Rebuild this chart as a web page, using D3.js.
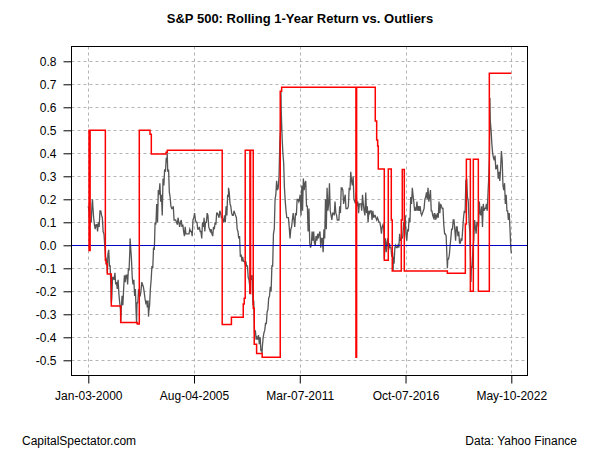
<!DOCTYPE html>
<html>
<head>
<meta charset="utf-8">
<script src="https://cdn.jsdelivr.net/npm/d3@7"></script>
<style>
  body { margin: 0; background: #fff; }
  text { font-family: "Liberation Sans", Arial, sans-serif; }
</style>
</head>
<body>
<div id="chart"></div>
<script>
// rolling 1-year return, mid-month readings, Jan 2000 .. Apr 2022
var midMonth = [
  0.15, 0.11, 0.18, 0.12, 0.07, 0.09, 0.10, 0.15, 0.13, 0.06, 0.00, -0.06,
  -0.04, -0.09, -0.19, -0.14, -0.15, -0.17, -0.19, -0.21, -0.28, -0.22, -0.19, -0.16,
  -0.13, -0.10, -0.02, -0.06, -0.17, -0.22, -0.30, -0.25, -0.22, -0.20, -0.17, -0.20,
  -0.25, -0.27, -0.29, -0.19, -0.09, -0.01, 0.10, 0.18, 0.24, 0.27, 0.22, 0.29,
  0.33, 0.38, 0.32, 0.23, 0.17, 0.16, 0.11, 0.11, 0.09, 0.10, 0.10, 0.08,
  0.06, 0.08, 0.05, 0.05, 0.07, 0.06, 0.11, 0.14, 0.10, 0.07, 0.08, 0.06,
  0.10, 0.12, 0.10, 0.14, 0.08, 0.06, 0.05, 0.08, 0.10, 0.14, 0.13, 0.15,
  0.12, 0.11, 0.13, 0.17, 0.22, 0.23, 0.17, 0.13, 0.15, 0.13, 0.07, 0.03,
  -0.05, -0.07, -0.07, -0.08, -0.09, -0.14, -0.18, -0.15, -0.26, -0.38, -0.41, -0.41,
  -0.43, -0.46, -0.44, -0.38, -0.34, -0.29, -0.23, -0.18, -0.09, 0.05, 0.20, 0.28,
  0.25, 0.45, 0.58, 0.40, 0.25, 0.15, 0.12, 0.08, 0.07, 0.11, 0.11, 0.14,
  0.20, 0.19, 0.22, 0.26, 0.29, 0.27, 0.17, 0.06, 0.01, 0.00, 0.02, 0.01,
  0.04, 0.05, 0.05, -0.01, 0.03, 0.07, 0.20, 0.25, 0.18, 0.15, 0.11, 0.14,
  0.19, 0.13, 0.11, 0.17, 0.25, 0.24, 0.20, 0.16, 0.16, 0.25, 0.32, 0.26,
  0.20, 0.18, 0.17, 0.14, 0.18, 0.15, 0.18, 0.13, 0.14, 0.10, 0.14, 0.15,
  0.15, 0.13, 0.12, 0.12, 0.10, 0.08, 0.08, 0.07, 0.03, 0.01, -0.02, -0.01,
  -0.05, -0.05, -0.01, -0.01, 0.00, 0.05, 0.03, 0.04, 0.07, 0.05, 0.07, 0.12,
  0.21, 0.25, 0.19, 0.16, 0.19, 0.17, 0.17, 0.13, 0.15, 0.20, 0.23, 0.25,
  0.21, 0.15, 0.13, 0.14, 0.13, 0.14, 0.19, 0.18, 0.16, 0.09, 0.05, -0.05,
  -0.06, 0.00, 0.07, 0.11, 0.07, 0.08, 0.04, 0.01, 0.03, 0.07, 0.15, 0.28,
  0.21, 0.10, -0.07, -0.10, 0.02, 0.08, 0.10, 0.08, 0.14, 0.17, 0.18, 0.16,
  0.18, 0.23, 0.40, 0.50, 0.40, 0.37, 0.33, 0.35, 0.32, 0.33, 0.37, 0.24,
  0.18, 0.15, 0.11, 0.07
];

// same series, month-end readings, Jan 2000 .. Apr 2022
var monthEnd = [
  0.09, 0.10, 0.17, 0.09, 0.09, 0.06, 0.08, 0.15, 0.12, 0.05, -0.05, -0.10,
  -0.02, -0.09, -0.23, -0.14, -0.12, -0.16, -0.15, -0.25, -0.28, -0.26, -0.13, -0.13,
  -0.17, -0.11, -0.01, -0.14, -0.15, -0.19, -0.25, -0.19, -0.22, -0.16, -0.18, -0.23,
  -0.24, -0.24, -0.26, -0.15, -0.10, -0.02, 0.09, 0.10, 0.22, 0.19, 0.13, 0.26,
  0.32, 0.36, 0.33, 0.21, 0.16, 0.17, 0.11, 0.10, 0.12, 0.08, 0.11, 0.09,
  0.04, 0.05, 0.05, 0.05, 0.06, 0.04, 0.12, 0.11, 0.10, 0.07, 0.06, 0.03,
  0.08, 0.06, 0.10, 0.13, 0.07, 0.07, 0.04, 0.07, 0.09, 0.14, 0.12, 0.14,
  0.12, 0.10, 0.10, 0.13, 0.21, 0.18, 0.14, 0.13, 0.14, 0.12, 0.06, 0.04,
  -0.04, -0.05, -0.07, -0.07, -0.09, -0.15, -0.13, -0.13, -0.24, -0.37, -0.40, -0.39,
  -0.40, -0.45, -0.40, -0.37, -0.34, -0.28, -0.22, -0.20, -0.09, 0.07, 0.22, 0.24,
  0.30, 0.50, 0.47, 0.36, 0.19, 0.12, 0.12, 0.03, 0.08, 0.14, 0.08, 0.13,
  0.20, 0.20, 0.13, 0.15, 0.24, 0.28, 0.17, 0.16, -0.01, 0.06, 0.06, 0.00,
  0.02, 0.03, 0.06, 0.03, -0.03, 0.03, 0.07, 0.15, 0.27, 0.13, 0.14, 0.13,
  0.14, 0.11, 0.11, 0.14, 0.25, 0.18, 0.22, 0.16, 0.17, 0.24, 0.28, 0.30,
  0.19, 0.23, 0.19, 0.18, 0.18, 0.22, 0.15, 0.23, 0.17, 0.15, 0.15, 0.11,
  0.12, 0.13, 0.11, 0.11, 0.10, 0.05, 0.09, -0.02, -0.03, 0.03, 0.01, -0.01,
  -0.03, -0.08, 0.00, -0.01, -0.01, 0.02, 0.03, 0.10, 0.13, 0.02, 0.06, 0.10,
  0.18, 0.22, 0.15, 0.15, 0.15, 0.15, 0.14, 0.14, 0.16, 0.21, 0.20, 0.19,
  0.24, 0.15, 0.12, 0.11, 0.12, 0.12, 0.14, 0.17, 0.16, 0.05, 0.04, -0.06,
  -0.04, 0.03, 0.07, 0.11, 0.02, 0.08, 0.06, 0.01, 0.02, 0.12, 0.14, 0.29,
  0.19, 0.06, -0.09, -0.01, 0.11, 0.05, 0.10, 0.19, 0.13, 0.08, 0.15, 0.16,
  0.15, 0.29, 0.54, 0.44, 0.38, 0.39, 0.34, 0.29, 0.28, 0.41, 0.26, 0.27,
  0.22, 0.15, 0.14, -0.01
];

// daily extremes that stick out of the monthly readings
var extremeDates = ["2000-01-03", "2000-03-24", "2001-01-04", "2001-03-22", "2001-09-21",
  "2002-03-19", "2002-07-23", "2003-03-11", "2004-03-05", "2007-06-01", "2008-07-15",
  "2009-03-09", "2010-03-09", "2015-08-25", "2016-02-11", "2018-12-24", "2020-03-23",
  "2021-03-23", "2022-05-10"];
var extremeValues = [0.17, 0.20, -0.12, -0.25, -0.33,
  0.03, -0.34, -0.31, 0.40, 0.25, -0.21,
  -0.47, 0.67, -0.06, -0.11, -0.10, -0.16,
  0.64, -0.035];

// outlier step series
var outlierDates = ["2000-01-03", "2000-01-17", "2000-02-07", "2000-11-27", "2000-12-10", "2001-01-04",
  "2001-03-22", "2001-09-19", "2002-08-06", "2002-09-13", "2003-04-08", "2003-05-03",
  "2004-02-12", "2004-03-07", "2007-01-30", "2007-07-27", "2008-03-11", "2008-03-30",
  "2008-04-18", "2008-07-18", "2008-07-31", "2008-09-20", "2008-10-09", "2008-11-24",
  "2009-03-12", "2010-02-23", "2010-03-22", "2014-02-23", "2014-03-08", "2015-03-03",
  "2015-03-30", "2015-04-18", "2015-04-30", "2015-08-24", "2015-11-09", "2016-01-06",
  "2016-01-25", "2016-07-17", "2016-08-05", "2016-09-13", "2018-12-23", "2019-12-05",
  "2019-12-25", "2020-03-11", "2020-05-07", "2020-08-12", "2021-03-12", "2022-05-10"];
var outlierValues = [0.50, -0.023, 0.50, -0.065, -0.08, -0.125,
  -0.264, -0.336, -0.342, 0.50, 0.483, 0.397,
  0.405, 0.413, -0.344, -0.313, -0.255, -0.23,
  0.413, -0.21, 0.413, -0.274, -0.43, -0.47,
  -0.487, 0.67, 0.687, -0.487, 0.687, 0.54,
  0.458, 0.432, 0.332, -0.065, 0.332, 0.11,
  -0.112, 0.11, 0.33, -0.112, -0.122, 0.093,
  0.374, -0.20, 0.374, -0.20, 0.748, 0.748];

var tickDates = ["2000-01-03", "2005-08-04", "2011-03-07", "2016-10-07", "2022-05-10"];
var yTicks = [0.8, 0.7, 0.6, 0.5, 0.4, 0.3, 0.2, 0.1, 0.0, -0.1, -0.2, -0.3, -0.4, -0.5];

var parse = d3.timeParse("%Y-%m-%d");

var grayData = [];
midMonth.forEach(function(v, i) {
  grayData.push({date: new Date(2000, i, 15), val: v});
});
monthEnd.forEach(function(v, i) {
  grayData.push({date: new Date(2000, i + 1, 0), val: v});
});
extremeDates.forEach(function(d, i) {
  grayData.push({date: parse(d), val: extremeValues[i]});
});
grayData.sort(function(a, b) { return a.date - b.date; });

var redData = outlierDates.map(function(d, i) {
  return {date: parse(d), val: outlierValues[i]};
});

var W = 600, H = 450;
var box = {left: 71.5, right: 527.5, top: 46.5, bottom: 375.5};

var svg = d3.select("#chart").append("svg")
  .attr("width", W)
  .attr("height", H);

var x = d3.scaleTime()
  .domain([parse("2000-01-03"), parse("2022-05-10")])
  .range([88.3, 511.3]);

var y = d3.scaleLinear()
  .domain([(245.3 - box.bottom) / 230, (245.3 - box.top) / 230])
  .range([box.bottom, box.top]);

// grid
svg.append("g")
  .selectAll("line")
  .data(yTicks)
  .enter().append("line")
    .attr("x1", box.left).attr("x2", box.right)
    .attr("y1", function(d) { return Math.round(y(d)) + 0.5; })
    .attr("y2", function(d) { return Math.round(y(d)) + 0.5; })
    .attr("stroke", "#b4b4b4")
    .attr("stroke-dasharray", "3,3");

svg.append("g")
  .selectAll("line")
  .data(tickDates.map(parse))
  .enter().append("line")
    .attr("x1", function(d) { return Math.round(x(d)) + 0.5; })
    .attr("x2", function(d) { return Math.round(x(d)) + 0.5; })
    .attr("y1", box.top).attr("y2", box.bottom)
    .attr("stroke", "#b4b4b4")
    .attr("stroke-dasharray", "3,3");

var line = d3.line()
  .x(function(d) { return x(d.date); })
  .y(function(d) { return y(d.val); });

svg.append("path")
  .datum(grayData)
  .attr("fill", "none")
  .attr("stroke", "#555555")
  .attr("stroke-width", 1.3)
  .attr("d", line);

// zero line
svg.append("line")
  .attr("x1", box.left).attr("x2", box.right)
  .attr("y1", Math.round(y(0)) + 0.5).attr("y2", Math.round(y(0)) + 0.5)
  .attr("stroke", "#0000c0")
  .attr("stroke-width", 1);

svg.append("path")
  .datum(redData)
  .attr("fill", "none")
  .attr("stroke", "#ff0000")
  .attr("stroke-width", 1.5)
  .attr("d", line.curve(d3.curveStepAfter));

// box
svg.append("rect")
  .attr("x", box.left).attr("y", box.top)
  .attr("width", box.right - box.left)
  .attr("height", box.bottom - box.top)
  .attr("fill", "none")
  .attr("stroke", "#000");

var fmt = d3.timeFormat("%b-%d-%Y");

svg.append("g")
  .attr("transform", "translate(0," + box.bottom + ")")
  .call(d3.axisBottom(x).tickValues(tickDates.map(parse)).tickFormat(fmt).tickSize(8).tickPadding(8))
  .call(function(g) {
    g.select(".domain").remove();
    g.selectAll("line").attr("stroke", "#000");
    g.selectAll("text").attr("font-size", 12).attr("fill", "#000")
      .attr("font-family", "'Liberation Sans', Arial, sans-serif");
  });

svg.append("g")
  .attr("transform", "translate(" + box.left + ",0)")
  .call(d3.axisLeft(y).tickValues(yTicks).tickFormat(d3.format(".1f")).tickSize(8).tickPadding(7))
  .call(function(g) {
    g.select(".domain").remove();
    g.selectAll("line").attr("stroke", "#000");
    g.selectAll("text").attr("font-size", 12).attr("fill", "#000")
      .attr("font-family", "'Liberation Sans', Arial, sans-serif")
      .text(function(d) { return d3.format(".1f")(d).replace("−", "-"); });
  });

svg.append("text")
  .attr("x", 300).attr("y", 23)
  .attr("text-anchor", "middle")
  .attr("font-size", 13)
  .attr("font-weight", "bold")
  .text("S&P 500: Rolling 1-Year Return vs. Outliers");

svg.append("text")
  .attr("x", 22).attr("y", 445)
  .attr("font-size", 12)
  .text("CapitalSpectator.com");

svg.append("text")
  .attr("x", 577).attr("y", 445)
  .attr("text-anchor", "end")
  .attr("font-size", 12)
  .text("Data: Yahoo Finance");
</script>
</body>
</html>
